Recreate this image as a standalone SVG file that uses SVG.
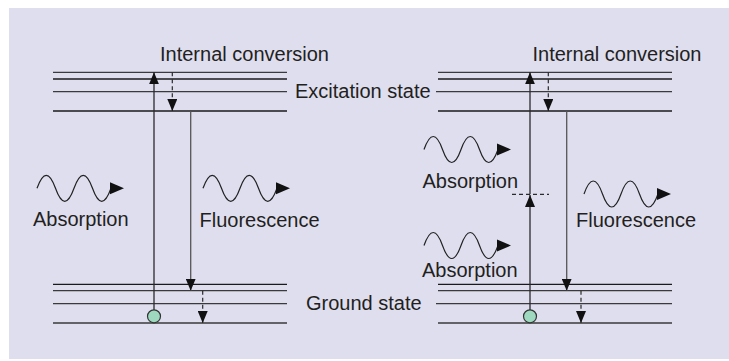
<svg xmlns="http://www.w3.org/2000/svg" width="729" height="361" viewBox="0 0 729 361">
<style>
  .lvl { stroke: #3a3a3a; stroke-width: 1.3; fill: none; }
  .lvlk { stroke: #1a1a1a; stroke-width: 1.3; fill: none; }
  .arr { stroke: #2a2a2a; stroke-width: 1.3; fill: none; }
  .arrg { stroke: #555; stroke-width: 1.3; fill: none; }
  .dash { stroke: #2a2a2a; stroke-width: 1.2; fill: none; stroke-dasharray: 4 3; }
  .wave { stroke: #222; stroke-width: 1.2; fill: none; }
  .head { fill: #111; stroke: none; }
  .lbl { font-family: "Liberation Sans", Arial, Helvetica, sans-serif; font-size: 20px; fill: #231f20; }
  .dot { fill: #9dd8bf; stroke: #333; stroke-width: 1.2; }
</style>
<defs>
  <marker id="ah" viewBox="0 0 12 10" refX="12" refY="5" markerWidth="12" markerHeight="10" markerUnits="userSpaceOnUse" orient="auto">
    <path d="M0,0 L12,5 L0,10 Z" fill="#111" stroke="none"/>
  </marker>
  <g id="wave">
    <path class="wave" d="M0,0 c6.17,-17.33 12.33,-17.33 18.5,0 c6.17,17.33 12.33,17.33 18.5,0 c6.17,-17.33 12.33,-17.33 18.5,0 c6.17,17.33 12.33,17.33 18.5,0"/>
    <polygon class="head" points="73,-6 87,0 73,6"/>
  </g>
</defs>

<rect id="background" x="9" y="8" width="720" height="351" fill="#dfdeef"/>

<!-- Left panel -->
<g id="left-excitation-levels">
  <line class="lvl" x1="53" y1="72.3" x2="287" y2="72.3"/>
  <line class="lvlk" x1="53" y1="79" x2="287" y2="79"/>
  <line class="lvl" x1="53" y1="91.7" x2="287" y2="91.7"/>
  <line class="lvlk" x1="53" y1="111" x2="287" y2="111"/>
</g>
<g id="left-ground-levels">
  <line class="lvlk" x1="53" y1="284.3" x2="287" y2="284.3"/>
  <line class="lvl" x1="53" y1="290.7" x2="287" y2="290.7"/>
  <line class="lvl" x1="53" y1="303.7" x2="287" y2="303.7"/>
  <line class="lvl" x1="53" y1="323" x2="287" y2="323"/>
</g>

<!-- Right panel -->
<g id="right-excitation-levels">
  <line class="lvl" x1="438" y1="72.3" x2="672" y2="72.3"/>
  <line class="lvlk" x1="438" y1="79" x2="672" y2="79"/>
  <line class="lvl" x1="436" y1="91.7" x2="672" y2="91.7"/>
  <line class="lvlk" x1="438" y1="111" x2="672" y2="111"/>
</g>
<g id="right-ground-levels">
  <line class="lvlk" x1="438" y1="284.3" x2="672" y2="284.3"/>
  <line class="lvl" x1="438" y1="290.7" x2="672" y2="290.7"/>
  <line class="lvl" x1="436" y1="303.7" x2="672" y2="303.7"/>
  <line class="lvl" x1="438" y1="323" x2="672" y2="323"/>
</g>
<g id="virtual-level">
  <line class="dash" x1="512" y1="194.3" x2="549" y2="194.3"/>
</g>

<g id="connectors">
  <!-- left -->
  <line class="arr" x1="154" y1="316" x2="154" y2="72.3" marker-end="url(#ah)"/>
  <line class="dash" x1="172.3" y1="72.3" x2="172.3" y2="111" marker-end="url(#ah)"/>
  <line class="arrg" x1="190.7" y1="111" x2="190.7" y2="290.7" marker-end="url(#ah)"/>
  <line class="dash" x1="202.7" y1="290.7" x2="202.7" y2="323" marker-end="url(#ah)"/>
  <!-- right -->
  <line class="arr" x1="530" y1="316" x2="530" y2="195" marker-end="url(#ah)"/>
  <line class="arr" x1="530" y1="194.3" x2="530" y2="72.3" marker-end="url(#ah)"/>
  <line class="dash" x1="548.3" y1="72.3" x2="548.3" y2="111" marker-end="url(#ah)"/>
  <line class="arrg" x1="566.7" y1="111" x2="566.7" y2="290.7" marker-end="url(#ah)"/>
  <line class="dash" x1="581" y1="290.7" x2="581" y2="323" marker-end="url(#ah)"/>
</g>

<g id="left-electron">
  <circle class="dot" cx="154" cy="316.3" r="6.5"/>
</g>
<g id="right-electron">
  <circle class="dot" cx="530" cy="316.3" r="6.5"/>
</g>

<g id="left-absorption">
  <use href="#wave" transform="translate(37,188.3)"/>
  <text class="lbl" x="33" y="226">Absorption</text>
</g>
<g id="left-fluorescence">
  <use href="#wave" transform="translate(203,188.3)"/>
  <text class="lbl" x="199.5" y="226.5">Fluorescence</text>
</g>
<g id="right-absorption-upper">
  <use href="#wave" transform="translate(424,149.5)"/>
  <text class="lbl" x="422.5" y="188.3">Absorption</text>
</g>
<g id="right-absorption-lower">
  <use href="#wave" transform="translate(424,245.5)"/>
  <text class="lbl" x="422" y="276.7">Absorption</text>
</g>
<g id="right-fluorescence">
  <use href="#wave" transform="translate(584,194)"/>
  <text class="lbl" x="576" y="226.7">Fluorescence</text>
</g>

<g id="labels">
  <text class="lbl" x="160" y="60.5">Internal conversion</text>
  <text class="lbl" x="532.5" y="61">Internal conversion</text>
  <text class="lbl" x="295" y="97.5">Excitation state</text>
  <text class="lbl" x="306" y="310">Ground state</text>
</g>
</svg>
